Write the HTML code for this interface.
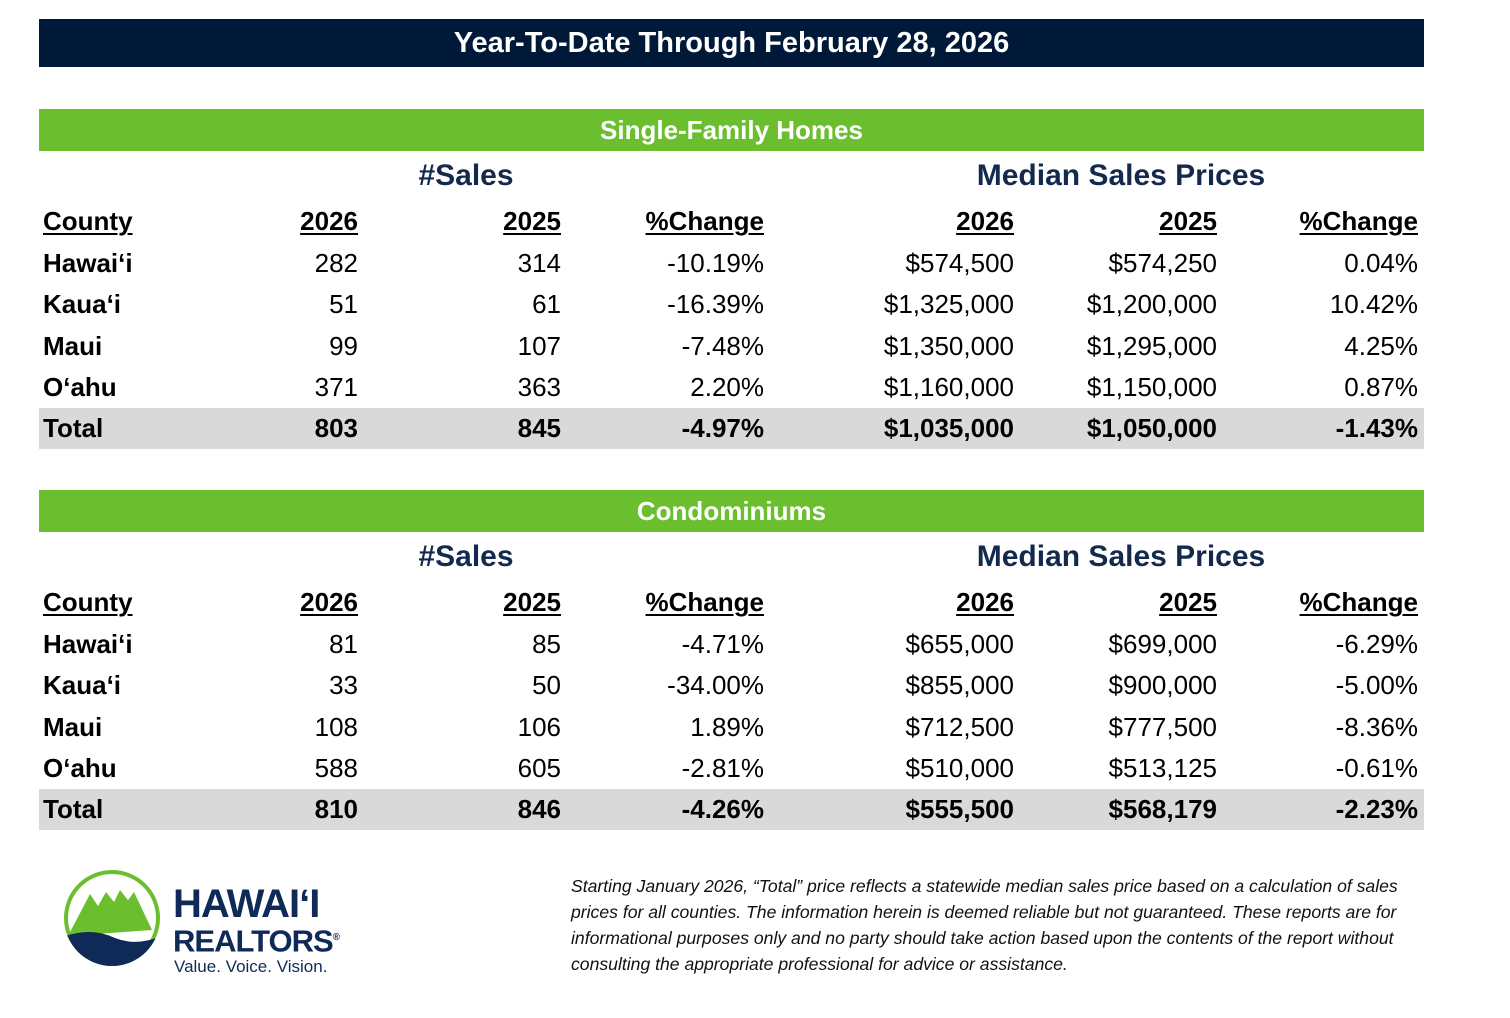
<!DOCTYPE html>
<html><head><meta charset="utf-8"><style>
body{margin:0;width:1510px;height:1018px;background:#fff;position:relative;font-family:"Liberation Sans",sans-serif;overflow:hidden}
.a{position:absolute;line-height:30px;white-space:nowrap;font-size:26px;color:#000}
.r{text-align:right}
.b{font-weight:bold}
.bar{position:absolute;left:39px;width:1385px}
.u{text-decoration:underline;text-decoration-thickness:2px;text-underline-offset:3px}
.nav{color:#132a4e;font-weight:bold;font-size:30px}
.fn{position:absolute;left:571px;font-style:italic;font-size:17.6px;line-height:26px;color:#111;width:900px;white-space:nowrap}
</style></head><body>
<div class="bar" style="top:19px;height:48px;background:#011938"></div>
<div class="a b" style="left:39px;width:1385px;text-align:center;top:28px;color:#fff;font-size:29px">Year-To-Date Through February 28, 2026</div>

<script>
function tbl(y0,title,rows){
 let h='';
 h+=`<div class="bar" style="top:${y0}px;height:42px;background:#6bbf2f"></div>`;
 h+=`<div class="a b" style="left:39px;width:1385px;text-align:center;top:${y0+6}px;color:#fff;font-size:26px">${title}</div>`;
 h+=`<div class="a nav" style="left:366px;width:200px;text-align:center;top:${y0+52}px">#Sales</div>`;
 h+=`<div class="a nav" style="left:896px;width:450px;text-align:center;top:${y0+52}px">Median Sales Prices</div>`;
 const xs=[358,561,764,1014,1217,1418];
 const hy=y0+97;
 h+=`<div class="a b u" style="left:43px;top:${hy}px">County</div>`;
 ['2026','2025','%Change','2026','2025','%Change'].forEach((t,i)=>{h+=`<div class="a b u r" style="right:${1510-xs[i]}px;top:${hy}px">${t}</div>`});
 h+=`<div class="bar" style="top:${y0+299}px;height:41px;background:#d9d9d9"></div>`;
 rows.forEach((r,j)=>{
  const y=y0+139+j*41.3;const tot=j==4;
  h+=`<div class="a b" style="left:43px;top:${y}px">${r[0]}</div>`;
  for(let i=1;i<7;i++)h+=`<div class="a r${tot?' b':''}" style="right:${1510-xs[i-1]}px;top:${y}px">${r[i]}</div>`;
 });
 document.write(h);
}
tbl(109,'Single-Family Homes',[
['Hawai‘i','282','314','-10.19%','$574,500','$574,250','0.04%'],
['Kaua‘i','51','61','-16.39%','$1,325,000','$1,200,000','10.42%'],
['Maui','99','107','-7.48%','$1,350,000','$1,295,000','4.25%'],
['O‘ahu','371','363','2.20%','$1,160,000','$1,150,000','0.87%'],
['Total','803','845','-4.97%','$1,035,000','$1,050,000','-1.43%']]);
tbl(490,'Condominiums',[
['Hawai‘i','81','85','-4.71%','$655,000','$699,000','-6.29%'],
['Kaua‘i','33','50','-34.00%','$855,000','$900,000','-5.00%'],
['Maui','108','106','1.89%','$712,500','$777,500','-8.36%'],
['O‘ahu','588','605','-2.81%','$510,000','$513,125','-0.61%'],
['Total','810','846','-4.26%','$555,500','$568,179','-2.23%']]);
</script>

<svg style="position:absolute;left:60px;top:866px" width="110" height="105" viewBox="0 0 110 105">
<defs><clipPath id="c"><circle cx="52" cy="52" r="48"/></clipPath></defs>
<circle cx="52" cy="52" r="46" fill="none" stroke="#6bbf2f" stroke-width="4"/>
<g clip-path="url(#c)">
<path d="M8 70 L30 28 L38 40 L46 26 L54 36 L60 24 L68 34 L74 26 L92 64 Z" fill="#6bbf2f"/>
<path d="M0 72 Q30 60 55 72 Q80 82 110 66 L110 110 L0 110Z" fill="#0f2a57"/>
</g>
</svg>
<div class="a b" style="left:173px;top:884px;font-size:40px;line-height:40px;color:#0f2a57;letter-spacing:-1px">HAWAI‘I</div>
<div class="a b" style="left:173px;top:922px;font-size:31px;line-height:32px;color:#0f2a57;letter-spacing:-1px">REALTORS<sup style="font-size:10px">®</sup></div>
<div class="a" style="left:174px;top:957px;font-size:17px;line-height:20px;color:#0f2a57">Value. Voice. Vision.</div>

<div class="fn" style="top:873px">Starting January 2026, “Total” price reflects a statewide median sales price based on a calculation of sales<br>prices for all counties. The information herein is deemed reliable but not guaranteed. These reports are for<br>informational purposes only and no party should take action based upon the contents of the report without<br>consulting the appropriate professional for advice or assistance.</div>
</body></html>
